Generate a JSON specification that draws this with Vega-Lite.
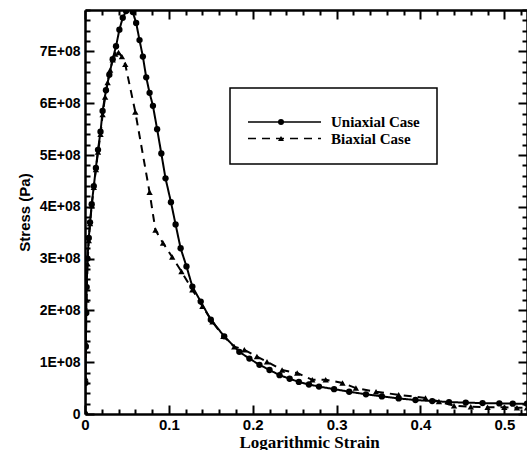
{
  "$schema": "https://vega.github.io/schema/vega-lite/v6.json",
  "width": 442,
  "height": 404,
  "padding": {"left": 85, "top": 10, "right": 0, "bottom": 36},
  "autosize": {"type": "none"},
  "background": "white",
  "config": {"view": {"stroke": null}, "font": "Liberation Sans"},
  "datasets": {
    "curves": [
      {"case": "Uniaxial Case", "strain": 0, "stress": 0},
      {"case": "Uniaxial Case", "strain": 0.0005, "stress": 60000000},
      {"case": "Uniaxial Case", "strain": 0.001, "stress": 130000000},
      {"case": "Uniaxial Case", "strain": 0.0015, "stress": 195000000},
      {"case": "Uniaxial Case", "strain": 0.002, "stress": 245000000},
      {"case": "Uniaxial Case", "strain": 0.003, "stress": 300000000},
      {"case": "Uniaxial Case", "strain": 0.0045, "stress": 340000000},
      {"case": "Uniaxial Case", "strain": 0.006, "stress": 370000000},
      {"case": "Uniaxial Case", "strain": 0.008, "stress": 405000000},
      {"case": "Uniaxial Case", "strain": 0.0105, "stress": 440000000},
      {"case": "Uniaxial Case", "strain": 0.013, "stress": 475000000},
      {"case": "Uniaxial Case", "strain": 0.0155, "stress": 510000000},
      {"case": "Uniaxial Case", "strain": 0.0185, "stress": 545000000},
      {"case": "Uniaxial Case", "strain": 0.021, "stress": 585000000},
      {"case": "Uniaxial Case", "strain": 0.025, "stress": 625000000},
      {"case": "Uniaxial Case", "strain": 0.029, "stress": 655000000},
      {"case": "Uniaxial Case", "strain": 0.033, "stress": 685000000},
      {"case": "Uniaxial Case", "strain": 0.037, "stress": 710000000},
      {"case": "Uniaxial Case", "strain": 0.041, "stress": 742000000},
      {"case": "Uniaxial Case", "strain": 0.045, "stress": 765000000},
      {"case": "Uniaxial Case", "strain": 0.049, "stress": 778000000},
      {"case": "Uniaxial Case", "strain": 0.053, "stress": 784000000},
      {"case": "Uniaxial Case", "strain": 0.057, "stress": 776000000},
      {"case": "Uniaxial Case", "strain": 0.061, "stress": 755000000},
      {"case": "Uniaxial Case", "strain": 0.065, "stress": 722000000},
      {"case": "Uniaxial Case", "strain": 0.069, "stress": 690000000},
      {"case": "Uniaxial Case", "strain": 0.073, "stress": 650000000},
      {"case": "Uniaxial Case", "strain": 0.077, "stress": 620000000},
      {"case": "Uniaxial Case", "strain": 0.081, "stress": 595000000},
      {"case": "Uniaxial Case", "strain": 0.086, "stress": 550000000},
      {"case": "Uniaxial Case", "strain": 0.091, "stress": 503000000},
      {"case": "Uniaxial Case", "strain": 0.096, "stress": 455000000},
      {"case": "Uniaxial Case", "strain": 0.1025, "stress": 409000000},
      {"case": "Uniaxial Case", "strain": 0.108, "stress": 366000000},
      {"case": "Uniaxial Case", "strain": 0.114, "stress": 320000000},
      {"case": "Uniaxial Case", "strain": 0.121, "stress": 285000000},
      {"case": "Uniaxial Case", "strain": 0.128, "stress": 246000000},
      {"case": "Uniaxial Case", "strain": 0.138, "stress": 217000000},
      {"case": "Uniaxial Case", "strain": 0.15, "stress": 182000000},
      {"case": "Uniaxial Case", "strain": 0.166, "stress": 150000000},
      {"case": "Uniaxial Case", "strain": 0.184, "stress": 120000000},
      {"case": "Uniaxial Case", "strain": 0.196, "stress": 107000000},
      {"case": "Uniaxial Case", "strain": 0.208, "stress": 95000000},
      {"case": "Uniaxial Case", "strain": 0.22, "stress": 85000000},
      {"case": "Uniaxial Case", "strain": 0.232, "stress": 75000000},
      {"case": "Uniaxial Case", "strain": 0.244, "stress": 68000000},
      {"case": "Uniaxial Case", "strain": 0.255, "stress": 62000000},
      {"case": "Uniaxial Case", "strain": 0.267, "stress": 57000000},
      {"case": "Uniaxial Case", "strain": 0.279, "stress": 53000000},
      {"case": "Uniaxial Case", "strain": 0.297, "stress": 48000000},
      {"case": "Uniaxial Case", "strain": 0.315, "stress": 43000000},
      {"case": "Uniaxial Case", "strain": 0.335, "stress": 38000000},
      {"case": "Uniaxial Case", "strain": 0.354, "stress": 34000000},
      {"case": "Uniaxial Case", "strain": 0.374, "stress": 30000000},
      {"case": "Uniaxial Case", "strain": 0.394, "stress": 27000000},
      {"case": "Uniaxial Case", "strain": 0.414, "stress": 25000000},
      {"case": "Uniaxial Case", "strain": 0.434, "stress": 23000000},
      {"case": "Uniaxial Case", "strain": 0.454, "stress": 22000000},
      {"case": "Uniaxial Case", "strain": 0.474, "stress": 21000000},
      {"case": "Uniaxial Case", "strain": 0.494, "stress": 20500000},
      {"case": "Uniaxial Case", "strain": 0.51, "stress": 20000000},
      {"case": "Uniaxial Case", "strain": 0.527, "stress": 20000000},
      {"case": "Biaxial Case", "strain": 0, "stress": 0},
      {"case": "Biaxial Case", "strain": 0.0005, "stress": 70000000},
      {"case": "Biaxial Case", "strain": 0.001, "stress": 137000000},
      {"case": "Biaxial Case", "strain": 0.0018, "stress": 220000000},
      {"case": "Biaxial Case", "strain": 0.003, "stress": 290000000},
      {"case": "Biaxial Case", "strain": 0.0045, "stress": 335000000},
      {"case": "Biaxial Case", "strain": 0.006, "stress": 368000000},
      {"case": "Biaxial Case", "strain": 0.008, "stress": 402000000},
      {"case": "Biaxial Case", "strain": 0.0105, "stress": 438000000},
      {"case": "Biaxial Case", "strain": 0.013, "stress": 472000000},
      {"case": "Biaxial Case", "strain": 0.0155, "stress": 506000000},
      {"case": "Biaxial Case", "strain": 0.0185, "stress": 540000000},
      {"case": "Biaxial Case", "strain": 0.021, "stress": 578000000},
      {"case": "Biaxial Case", "strain": 0.024, "stress": 612000000},
      {"case": "Biaxial Case", "strain": 0.027, "stress": 640000000},
      {"case": "Biaxial Case", "strain": 0.03, "stress": 664000000},
      {"case": "Biaxial Case", "strain": 0.033, "stress": 684000000},
      {"case": "Biaxial Case", "strain": 0.036, "stress": 695000000},
      {"case": "Biaxial Case", "strain": 0.04, "stress": 698000000},
      {"case": "Biaxial Case", "strain": 0.044, "stress": 690000000},
      {"case": "Biaxial Case", "strain": 0.048, "stress": 675000000},
      {"case": "Biaxial Case", "strain": 0.06, "stress": 583000000},
      {"case": "Biaxial Case", "strain": 0.077, "stress": 428000000},
      {"case": "Biaxial Case", "strain": 0.084, "stress": 355000000},
      {"case": "Biaxial Case", "strain": 0.093, "stress": 330000000},
      {"case": "Biaxial Case", "strain": 0.104, "stress": 303000000},
      {"case": "Biaxial Case", "strain": 0.115, "stress": 275000000},
      {"case": "Biaxial Case", "strain": 0.128, "stress": 240000000},
      {"case": "Biaxial Case", "strain": 0.14, "stress": 208000000},
      {"case": "Biaxial Case", "strain": 0.152, "stress": 178000000},
      {"case": "Biaxial Case", "strain": 0.165, "stress": 150000000},
      {"case": "Biaxial Case", "strain": 0.178, "stress": 130000000},
      {"case": "Biaxial Case", "strain": 0.19, "stress": 124000000},
      {"case": "Biaxial Case", "strain": 0.205, "stress": 111000000},
      {"case": "Biaxial Case", "strain": 0.217, "stress": 101000000},
      {"case": "Biaxial Case", "strain": 0.235, "stress": 85000000},
      {"case": "Biaxial Case", "strain": 0.253, "stress": 79000000},
      {"case": "Biaxial Case", "strain": 0.271, "stress": 66000000},
      {"case": "Biaxial Case", "strain": 0.287, "stress": 66000000},
      {"case": "Biaxial Case", "strain": 0.307, "stress": 60000000},
      {"case": "Biaxial Case", "strain": 0.323, "stress": 50000000},
      {"case": "Biaxial Case", "strain": 0.347, "stress": 43000000},
      {"case": "Biaxial Case", "strain": 0.374, "stress": 37000000},
      {"case": "Biaxial Case", "strain": 0.406, "stress": 31000000},
      {"case": "Biaxial Case", "strain": 0.422, "stress": 24000000},
      {"case": "Biaxial Case", "strain": 0.44, "stress": 16000000},
      {"case": "Biaxial Case", "strain": 0.46, "stress": 14000000},
      {"case": "Biaxial Case", "strain": 0.48, "stress": 13000000},
      {"case": "Biaxial Case", "strain": 0.5, "stress": 13000000},
      {"case": "Biaxial Case", "strain": 0.515, "stress": 12000000},
      {"case": "Biaxial Case", "strain": 0.527, "stress": 12000000}
    ]
  },
  "data": {"name": "curves"},
  "layer": [
    {
      "mark": {"type": "line", "clip": true, "color": "black", "strokeWidth": 2},
      "encoding": {
        "x": {
          "field": "strain", "type": "quantitative",
          "scale": {"domain": [0, 0.527], "nice": false, "zero": false},
          "axis": {
            "orient": "bottom",
            "values": [0, 0.02, 0.04, 0.06, 0.08, 0.1, 0.12, 0.14, 0.16, 0.18, 0.2, 0.22, 0.24, 0.26, 0.28, 0.3, 0.32, 0.34, 0.36, 0.38, 0.4, 0.42, 0.44, 0.46, 0.48, 0.5, 0.52],
            "labelExpr": "abs(datum.value*10 - round(datum.value*10)) > 0.01 ? '' : (datum.value == 0 ? '0' : format(datum.value, '.1f'))",
            "labelOverlap": false,
            "labelFlush": false,
            "labelFont": "Liberation Sans", "labelFontWeight": "bold", "labelFontSize": 15, "labelColor": "black",
            "labelPadding": 12,
            "tickSize": {"condition": {"test": "abs(datum.value*10 - round(datum.value*10)) > 0.01", "value": -5}, "value": -9},
            "tickWidth": 2, "tickColor": "black",
            "domainColor": "black", "domainWidth": 2.5,
            "grid": false,
            "title": "Logarithmic Strain",
            "titleFont": "Liberation Serif", "titleFontWeight": "bold", "titleFontSize": 17, "titleColor": "black",
            "titleX": 224, "titleY": 33, "titleAlign": "center", "titleBaseline": "alphabetic"
          }
        },
        "y": {
          "field": "stress", "type": "quantitative",
          "scale": {"domain": [0, 780000000], "nice": false, "zero": true},
          "axis": {
            "orient": "left",
            "values": [0, 20000000, 40000000, 60000000, 80000000, 100000000, 120000000, 140000000, 160000000, 180000000, 200000000, 220000000, 240000000, 260000000, 280000000, 300000000, 320000000, 340000000, 360000000, 380000000, 400000000, 420000000, 440000000, 460000000, 480000000, 500000000, 520000000, 540000000, 560000000, 580000000, 600000000, 620000000, 640000000, 660000000, 680000000, 700000000, 720000000, 740000000, 760000000, 780000000],
            "labelExpr": "datum.value == 0 ? '0' : (datum.value % 100000000 == 0 ? (datum.value / 100000000) + 'E+08' : '')",
            "labelOverlap": false,
            "labelFlush": false,
            "labelFont": "Liberation Sans", "labelFontWeight": "bold", "labelFontSize": 14, "labelColor": "black",
            "labelPadding": 14,
            "tickSize": {"condition": {"test": "datum.value % 100000000 != 0", "value": -5}, "value": -9},
            "tickWidth": 2, "tickColor": "black",
            "domainColor": "black", "domainWidth": 2.5,
            "grid": false,
            "title": "Stress (Pa)",
            "titleFont": "Liberation Sans", "titleFontWeight": "bold", "titleFontSize": 15, "titleColor": "black",
            "titleAngle": -90, "titleX": -56, "titleY": 202, "titleAlign": "center", "titleBaseline": "alphabetic"
          }
        },
        "strokeDash": {
          "field": "case", "type": "nominal",
          "scale": {"domain": ["Uniaxial Case", "Biaxial Case"], "range": [[1, 0], [8, 6]]},
          "legend": {
            "orient": "none",
            "legendX": 145,
            "legendY": 78,
            "title": " ",
            "titleFontSize": 8,
            "titlePadding": 1,
            "padding": 17,
            "strokeColor": "black",
            "symbolType": "stroke",
            "symbolSize": 5329,
            "symbolStrokeWidth": 1.5,
            "symbolStrokeColor": "black",
            "clipHeight": 16,
            "rowPadding": 0.5,
            "labelFont": "Liberation Serif", "labelFontWeight": "bold", "labelFontSize": 15, "labelColor": "black",
            "labelOffset": 9,
            "labelLimit": 300,
            "encode": {"legend": {"update": {"strokeWidth": {"value": 1.5}}}}
          }
        }
      }
    },
    {
      "mark": {"type": "point", "filled": true, "clip": true, "color": "black", "opacity": 1, "size": 40},
      "encoding": {
        "x": {
          "field": "strain", "type": "quantitative",
          "axis": {
            "orient": "top",
            "values": [0, 0.02, 0.04, 0.06, 0.08, 0.1, 0.12, 0.14, 0.16, 0.18, 0.2, 0.22, 0.24, 0.26, 0.28, 0.3, 0.32, 0.34, 0.36, 0.38, 0.4, 0.42, 0.44, 0.46, 0.48, 0.5, 0.52],
            "labels": false,
            "tickSize": {"condition": {"test": "abs(datum.value*10 - round(datum.value*10)) > 0.01", "value": -5}, "value": -9},
            "tickWidth": 2, "tickColor": "black",
            "domainColor": "black", "domainWidth": 2.5,
            "grid": false, "title": null
          }
        },
        "y": {
          "field": "stress", "type": "quantitative",
          "axis": {
            "orient": "right",
            "values": [0, 20000000, 40000000, 60000000, 80000000, 100000000, 120000000, 140000000, 160000000, 180000000, 200000000, 220000000, 240000000, 260000000, 280000000, 300000000, 320000000, 340000000, 360000000, 380000000, 400000000, 420000000, 440000000, 460000000, 480000000, 500000000, 520000000, 540000000, 560000000, 580000000, 600000000, 620000000, 640000000, 660000000, 680000000, 700000000, 720000000, 740000000, 760000000, 780000000],
            "labels": false,
            "tickSize": {"condition": {"test": "datum.value % 100000000 != 0", "value": -5}, "value": -9},
            "tickWidth": 2, "tickColor": "black",
            "domainColor": "black", "domainWidth": 2.5,
            "grid": false, "title": null
          }
        },
        "shape": {
          "field": "case", "type": "nominal",
          "scale": {"domain": ["Uniaxial Case", "Biaxial Case", "none"], "range": ["circle", "triangle-up", "square"]},
          "legend": {
            "values": ["Uniaxial Case", "Biaxial Case"],
            "orient": "none",
            "legendX": 145,
            "legendY": 78,
            "title": " ",
            "titleFontSize": 8,
            "titlePadding": 1,
            "padding": 17,
            "symbolSize": 36,
            "symbolFillColor": "black",
            "symbolStrokeColor": "black",
            "symbolStrokeWidth": 0,
            "symbolOffset": 31,
            "clipHeight": 16,
            "rowPadding": 0.5,
            "labelFontSize": 1,
            "labelExpr": "''",
            "labelOpacity": 0,
            "labelOffset": 0
          }
        }
      }
    }
  ],
  "resolve": {"axis": {"x": "independent", "y": "independent"}}
}
